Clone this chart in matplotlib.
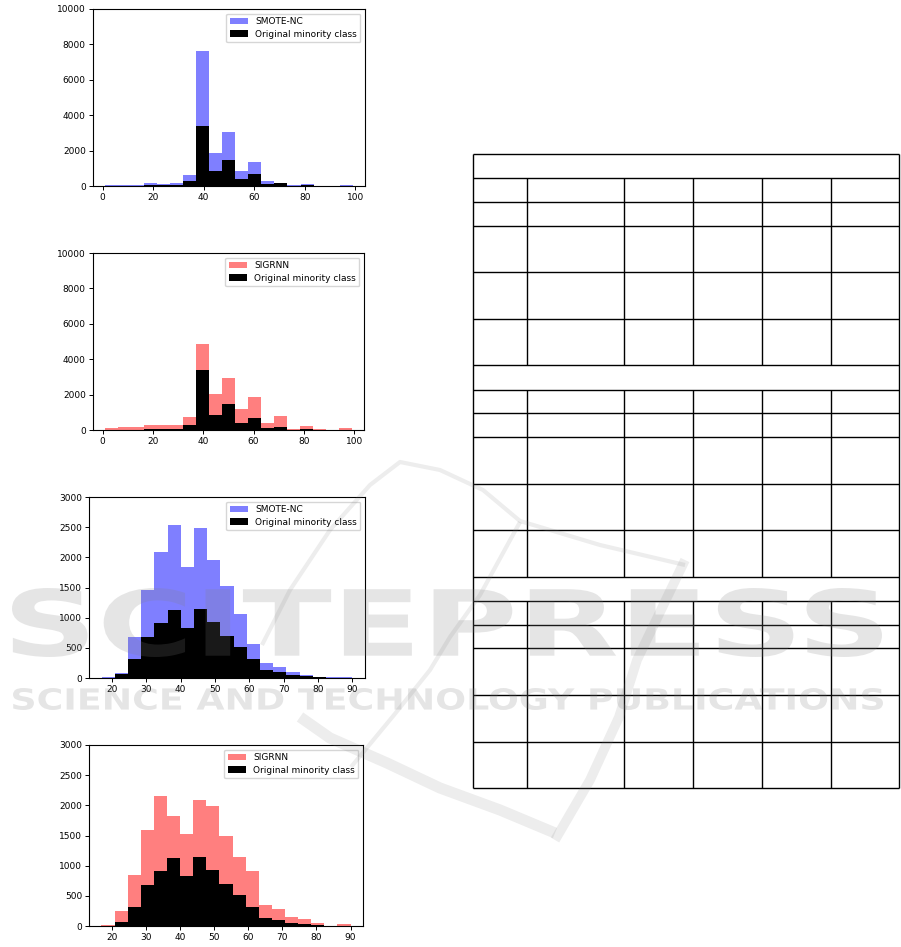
import numpy as np
import matplotlib
matplotlib.use("Agg")
import matplotlib.pyplot as plt
from matplotlib.textpath import TextPath
from matplotlib.patches import PathPatch
from matplotlib.font_manager import FontProperties
from matplotlib.transforms import Affine2D

# ---------------- data ----------------
# Histogram bins (19 equal-width bins)
edges_top = np.linspace(1, 99, 20)      # first variable (charts 1-2)
edges_bot = np.linspace(17, 90, 20)     # second variable (charts 3-4)

original_top = [10, 15, 20, 60, 40, 60, 280, 3410, 850, 1470, 380, 680, 100, 150, 20, 30, 5, 0, 10]
smote_top = [50, 50, 60, 170, 110, 170, 640, 7650, 1845, 3050, 850, 1360, 280, 170, 70, 110, 20, 5, 40]
sigrnn_top = [130, 170, 150, 280, 260, 260, 750, 4880, 2015, 2920, 1205, 1880, 395, 770, 75, 245, 75, 0, 130]

original_bot = [0, 60, 320, 680, 917, 1122, 823, 1149, 923, 702, 508, 320, 138, 105, 50, 28, 17, 5, 3]
smote_bot = [10, 80, 674, 1464, 2083, 2536, 1840, 2481, 1961, 1525, 1066, 564, 243, 182, 94, 55, 22, 10, 15]
sigrnn_bot = [10, 249, 841, 1588, 2153, 1815, 1533, 2086, 1981, 1489, 1140, 919, 349, 282, 149, 122, 50, 5, 33]

label_orig = "Original minority class"

# ---------------- figure ----------------
W, H = 901, 947
fig = plt.figure(figsize=(W / 100, H / 100), dpi=100)
plt.rcParams['font.family'] = ['DejaVu Sans']


def px_axes(x0, y0, x1, y1, **kw):
    return fig.add_axes([x0 / W, 1 - y1 / H, (x1 - x0) / W, (y1 - y0) / H], **kw)


panels = [
    ((92.7, 9, 365, 186), edges_top, smote_top, original_top, "SMOTE-NC", (0, 0, 1, 0.5), (0, 10000), [0, 2000, 4000, 6000, 8000, 10000]),
    ((92.7, 253, 364, 430), edges_top, sigrnn_top, original_top, "SIGRNN", (1, 0, 0, 0.5), (0, 10000), [0, 2000, 4000, 6000, 8000, 10000]),
    ((89, 497, 365, 678), edges_bot, smote_bot, original_bot, "SMOTE-NC", (0, 0, 1, 0.5), (0, 3000), [0, 500, 1000, 1500, 2000, 2500, 3000]),
    ((89, 745, 363, 926), edges_bot, sigrnn_bot, original_bot, "SIGRNN", (1, 0, 0, 0.5), (0, 3000), [0, 500, 1000, 1500, 2000, 2500, 3000]),
]

for box, edges, synth, orig, name, col, ylim, yt in panels:
    ax = px_axes(*box)
    widths = np.diff(edges)
    ax.bar(edges[:-1], synth, width=widths, align='edge', color=col, linewidth=0, label=name)
    ax.bar(edges[:-1], orig, width=widths, align='edge', color='black', linewidth=0, label=label_orig)
    ax.set_ylim(*ylim)
    ax.set_yticks(yt)
    ax.tick_params(labelsize=6.5, length=3, width=0.7, pad=2)
    for s in ax.spines.values():
        s.set_linewidth(0.8)
    ax.legend(loc='upper right', fontsize=6.5, handlelength=2, borderpad=0.4, labelspacing=0.4)

# ---------------- table grid ----------------
tax = fig.add_axes([0, 0, 1, 1], zorder=-1)
tax.set_xlim(0, W)
tax.set_ylim(H, 0)
tax.axis('off')

col_x = [473.3, 526.7, 624.3, 693.3, 762.3, 831.3, 899]
row_y = [154.3, 178.3, 202.3, 226.3, 272.3, 319.3, 365.3, 390, 413.3, 437.3,
         484.3, 530.3, 577.3, 601.3, 625.3, 648.3, 695.3, 742.3, 788.3]
blocks = [(178.3, 365.3), (390, 577.3), (601.3, 788.3)]   # blocks with column dividers

lw = 1.0
tax.hlines(row_y, col_x[0], col_x[-1], color='black', linewidth=lw)
tax.vlines([col_x[0], col_x[-1]], row_y[0], row_y[-1], color='black', linewidth=lw)
for (a, b) in blocks:
    tax.vlines(col_x[1:-1], a, b, color='black', linewidth=lw)

# ---------------- watermark ----------------
wax = fig.add_axes([0, 0, 1, 1], zorder=10)
wax.set_xlim(0, W)
wax.set_ylim(H, 0)
wax.axis('off')
wax.patch.set_alpha(0)

WM_COLOR = '#808080'
WM_ALPHA = 0.2
LOGO_ALPHA = 0.14


def fit_text(s, x0, y0, x1, y1, weight='bold'):
    fp = FontProperties(family='DejaVu Sans', weight=weight)
    tp = TextPath((0, 0), s, size=100, prop=fp)
    ext = tp.get_extents()
    sx = (x1 - x0) / ext.width
    sy = (y1 - y0) / ext.height
    tr = Affine2D().translate(-ext.x0, -ext.y0).scale(sx, -sy).translate(x0, y1)
    path = tr.transform_path(tp)
    wax.add_patch(PathPatch(path, facecolor=WM_COLOR, edgecolor='none', alpha=WM_ALPHA))


fit_text("SCITEPRESS", 12, 588, 882, 657)
fit_text("SCIENCE AND TECHNOLOGY PUBLICATIONS", 13, 688, 883, 710)

# logo swoosh strokes (decorative)
strokes = [
    ([262, 290, 330, 370, 400, 440, 483, 520, 600, 685],
     [645, 590, 530, 485, 462, 470, 490, 521, 545, 565], 3.0),
    ([520, 480, 450, 430, 394, 351],
     [522, 595, 637, 670, 715, 767], 3.0),
    ([300, 330, 387, 440, 500, 555],
     [717, 738, 763, 788, 810, 833], 8.0),
    ([555, 590, 619, 637, 685],
     [840, 780, 717, 660, 560], 7.0),
]
for xs, ys, w in strokes:
    wax.plot(xs, ys, color=WM_COLOR, alpha=LOGO_ALPHA, linewidth=w,
             solid_capstyle='butt', solid_joinstyle='round')

fig.savefig("out.png", dpi=100)
